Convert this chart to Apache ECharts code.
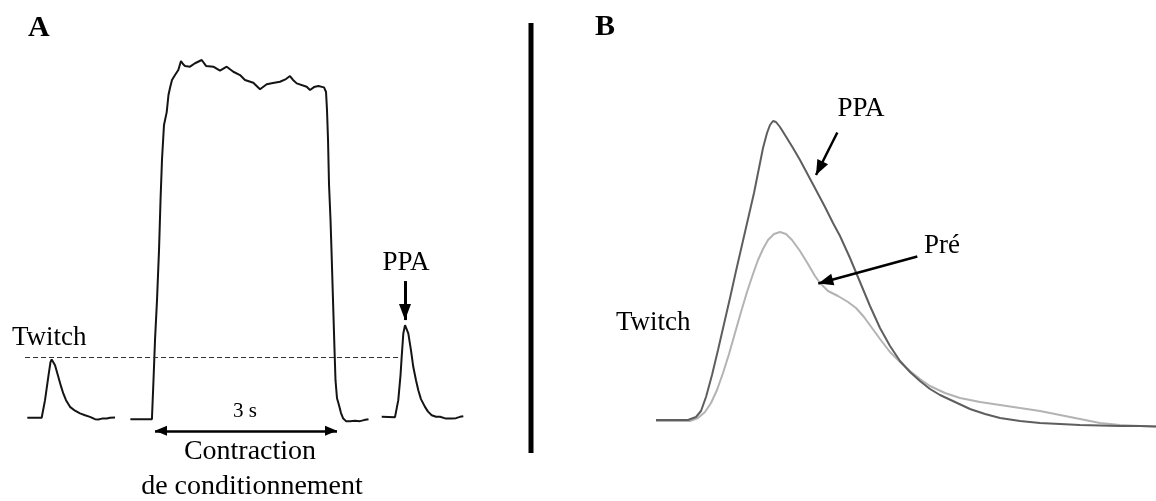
<!DOCTYPE html>
<html><head><meta charset="utf-8">
<script src="https://cdn.jsdelivr.net/npm/echarts@6/dist/echarts.min.js"></script>
<style>html,body{margin:0;padding:0;background:#fff}#c{width:1156px;height:501px}</style>
</head><body><div id="c"></div>
<script>
// ---------- Panel A : force (N) vs time (s) ----------
const twitchBefore = [[0.038,0.2],[0.275,0.3],[0.330,12.1],[0.384,27.8],[0.420,37.6],[0.440,39.4],[0.462,38.6],[0.495,35.6],[0.549,27.8],[0.593,21.5],[0.631,16.6],[0.676,12.1],[0.742,7.6],[0.824,5.0],[0.907,3.2],[0.989,2.0],[1.071,0.9],[1.154,-0.7],[1.208,-0.9],[1.269,-0.3],[1.347,-0.2],[1.401,0.3],[1.484,0.5]];
const conditioning = [[1.737,-0.7],[2.092,-0.7],[2.118,25.5],[2.143,52.4],[2.176,79.3],[2.209,112.9],[2.234,146.5],[2.258,173.4],[2.291,196.9],[2.336,205.6],[2.365,217.1],[2.390,221.8],[2.423,227.2],[2.473,230.5],[2.527,233.9],[2.571,239.9],[2.604,237.9],[2.637,236.6],[2.720,236.1],[2.802,238.4],[2.913,240.6],[2.984,236.6],[3.104,236.1],[3.214,233.4],[3.325,236.1],[3.434,232.7],[3.544,230.5],[3.626,227.2],[3.763,225.3],[3.874,220.9],[3.984,224.3],[4.088,225.1],[4.203,226.0],[4.302,227.8],[4.368,229.8],[4.418,227.2],[4.479,224.9],[4.643,222.6],[4.698,220.4],[4.764,222.4],[4.835,223.1],[4.929,222.2],[4.962,219.1],[4.978,207.0],[4.995,186.8],[5.011,157.3],[5.036,133.1],[5.052,112.9],[5.077,79.3],[5.102,45.7],[5.118,25.5],[5.143,13.4],[5.176,8.7],[5.209,3.4],[5.242,0],[5.291,-2.0],[5.357,-2.0],[5.440,-1.7],[5.522,-2.0],[5.588,-1.3],[5.662,-0.7]];
const twitchAfter = [[5.880,0.9],[6.099,0.7],[6.153,12.1],[6.190,28.9],[6.209,41.2],[6.236,56.9],[6.264,62.5],[6.288,61.2],[6.318,56.9],[6.362,45.7],[6.400,34.5],[6.445,25.5],[6.483,18.8],[6.527,12.8],[6.593,7.6],[6.643,4.4],[6.704,2.0],[6.775,1.0],[6.841,0.9],[6.940,-0.3],[7.033,-0.2],[7.104,0],[7.170,0.9],[7.225,1.3]];
const twitchLevel = 41.0;            // N
const twitchLevelSpan = [0, 6.18];   // s
const conditioningSpan = [2.143, 5.143]; // s  (3 s)
const spanArrowLevel = -8.5;         // N
const ppaArrowA = [[6.264, 92.1], [6.264, 65.9]];

// ---------- Panel B : force (N) vs time (ms) ----------
const twitchPPA = [[0,0.2],[32,0.2],[40,0.8],[45,2.0],[50,4.8],[56,9.2],[62,14.2],[68,19.4],[74,24.6],[80,30.0],[86,35.2],[92,40.4],[98,45.6],[103,50.6],[107,54.6],[111,57.6],[114,59.2],[117,60.0],[120,59.8],[124,58.8],[129,57.2],[137,54.6],[144,52.2],[152,49.2],[160,46.2],[169,42.8],[177,39.6],[184,37.0],[194,32.6],[204,27.8],[214,23.0],[224,18.6],[234,15.0],[244,12.0],[254,9.8],[264,8.0],[274,6.4],[284,5.2],[299,3.8],[314,2.4],[329,1.4],[344,0.6],[364,0],[384,-0.4],[404,-0.6],[424,-0.8],[444,-0.9],[464,-1.0],[484,-1.0],[500,-1.1]];
const twitchPre = [[0,0],[34,0],[42,0.6],[49,1.8],[55,3.6],[61,6.2],[67,9.6],[73,13.4],[79,17.6],[85,21.8],[91,25.8],[97,29.4],[102,32.2],[107,34.4],[112,36.2],[118,37.4],[124,37.8],[130,37.4],[136,36.2],[144,34.0],[152,31.4],[159,29.0],[164,27.6],[172,26.0],[182,25.0],[192,23.8],[200,22.6],[208,20.8],[216,18.6],[224,16.4],[234,13.8],[244,11.8],[254,10.0],[264,8.4],[274,7.0],[289,5.6],[304,4.6],[324,3.8],[344,3.2],[364,2.6],[384,2.0],[404,1.2],[424,0.4],[444,-0.4],[464,-0.8],[484,-1.0],[500,-1.1]];
const ppaArrowB = [[181.3, 57.7], [160, 49.2]];
const preArrowB = [[261.3, 32.9], [162.3, 27.5]];

const serif = '"Liberation Serif", "Times New Roman", serif';
const chart = echarts.init(document.getElementById('c'), null, {renderer: 'canvas'});

function arrowLine(from, to, width, head, both) {
  const end = (c, sym) => ({coord: c, symbol: sym, symbolSize: head, symbolOffset: [0, head[1] / 2]});
  return {
    silent: true,
    symbol: [both ? 'triangle' : 'none', 'triangle'],
    label: {show: false},
    lineStyle: {color: '#000', width: width, type: 'solid'},
    itemStyle: {color: '#000'},
    emphasis: {disabled: true},
    data: [[end(from, both ? 'triangle' : 'none'), end(to, 'triangle')]]
  };
}

const traceA = {type: 'line', xAxisIndex: 0, yAxisIndex: 0, showSymbol: false, symbol: 'none', silent: true,
  lineStyle: {color: '#141414', width: 2}, clip: false};

chart.setOption({
  animation: false,
  grid: [
    {left: 25, top: 46, width: 455, height: 394.5},
    {left: 656, top: 96, width: 500, height: 350}
  ],
  xAxis: [
    {type: 'value', gridIndex: 0, min: 0, max: 7.5, show: false},
    {type: 'value', gridIndex: 1, min: 0, max: 500, show: false}
  ],
  yAxis: [
    {type: 'value', gridIndex: 0, min: -15, max: 250, show: false},
    {type: 'value', gridIndex: 1, min: -5, max: 65, show: false}
  ],
  series: [
    Object.assign({}, traceA, {name: 'twitch-pre', data: twitchBefore,
      markLine: {silent: true, symbol: ['none', 'none'], label: {show: false},
        lineStyle: {color: '#333', width: 1, type: [5, 3]}, emphasis: {disabled: true},
        data: [[{coord: [twitchLevelSpan[0], twitchLevel]}, {coord: [twitchLevelSpan[1], twitchLevel]}]]}}),
    Object.assign({}, traceA, {name: 'conditioning', data: conditioning,
      markLine: arrowLine([conditioningSpan[0], spanArrowLevel], [conditioningSpan[1], spanArrowLevel], 2.5, [10, 12], true)}),
    Object.assign({}, traceA, {name: 'twitch-post', data: twitchAfter,
      markLine: arrowLine(ppaArrowA[0], ppaArrowA[1], 3, [12, 16], false)}),
    {type: 'line', name: 'Pré', xAxisIndex: 1, yAxisIndex: 1, showSymbol: false, symbol: 'none', silent: true, clip: false,
      lineStyle: {color: '#b3b3b3', width: 2}, data: twitchPre,
      markLine: arrowLine(preArrowB[0], preArrowB[1], 2.5, [12, 15], false)},
    {type: 'line', name: 'PPA', xAxisIndex: 1, yAxisIndex: 1, showSymbol: false, symbol: 'none', silent: true, clip: false,
      lineStyle: {color: '#5e5e5e', width: 2}, data: twitchPPA,
      markLine: arrowLine(ppaArrowB[0], ppaArrowB[1], 2.5, [12, 15], false)}
  ],
  graphic: [
    {type: 'line', silent: true, shape: {x1: 531, y1: 23, x2: 531, y2: 453}, style: {stroke: '#000', lineWidth: 5}},
    {type: 'text', silent: true, x: 28, y: 28.5, style: {text: 'A', font: 'bold 30px ' + serif, fill: '#000', align: 'left', verticalAlign: 'middle', textAlign: 'left', textVerticalAlign: 'middle'}},
    {type: 'text', silent: true, x: 595, y: 27, style: {text: 'B', font: 'bold 30px ' + serif, fill: '#000', align: 'left', verticalAlign: 'middle', textAlign: 'left', textVerticalAlign: 'middle'}},
    {type: 'text', silent: true, x: 12, y: 338, style: {text: 'Twitch', font: '27px ' + serif, fill: '#000', align: 'left', verticalAlign: 'middle', textAlign: 'left', textVerticalAlign: 'middle'}},
    {type: 'text', silent: true, x: 406, y: 263, style: {text: 'PPA', font: '27px ' + serif, fill: '#000', align: 'center', verticalAlign: 'middle', textAlign: 'center', textVerticalAlign: 'middle'}},
    {type: 'text', silent: true, x: 245, y: 411, style: {text: '3 s', font: '21px ' + serif, fill: '#000', align: 'center', verticalAlign: 'middle', textAlign: 'center', textVerticalAlign: 'middle'}},
    {type: 'text', silent: true, x: 250, y: 452, style: {text: 'Contraction', font: '28px ' + serif, fill: '#000', align: 'center', verticalAlign: 'middle', textAlign: 'center', textVerticalAlign: 'middle'}},
    {type: 'text', silent: true, x: 252, y: 487, style: {text: 'de conditionnement', font: '28px ' + serif, fill: '#000', align: 'center', verticalAlign: 'middle', textAlign: 'center', textVerticalAlign: 'middle'}},
    {type: 'text', silent: true, x: 861, y: 109, style: {text: 'PPA', font: '27px ' + serif, fill: '#000', align: 'center', verticalAlign: 'middle', textAlign: 'center', textVerticalAlign: 'middle'}},
    {type: 'text', silent: true, x: 924, y: 246, style: {text: 'Pré', font: '27px ' + serif, fill: '#000', align: 'left', verticalAlign: 'middle', textAlign: 'left', textVerticalAlign: 'middle'}},
    {type: 'text', silent: true, x: 616, y: 323, style: {text: 'Twitch', font: '27px ' + serif, fill: '#000', align: 'left', verticalAlign: 'middle', textAlign: 'left', textVerticalAlign: 'middle'}}
  ]
});
</script></body></html>
